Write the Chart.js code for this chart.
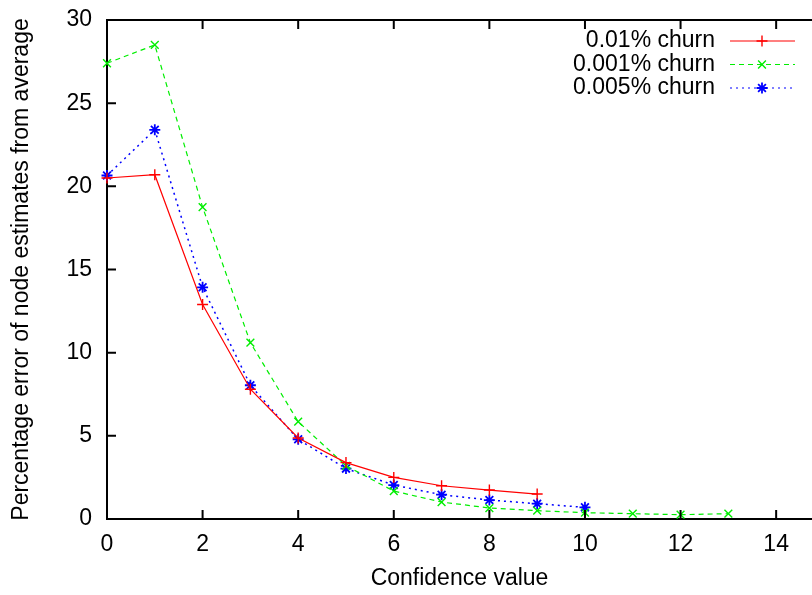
<!DOCTYPE html>
<html>
<head>
<meta charset="utf-8">
<script src="https://cdn.jsdelivr.net/npm/chart.js@4"></script>
<style>
  body { margin: 0; background: #fff; }
  #wrap { width: 812px; height: 595px; }
</style>
</head>
<body>
<div id="wrap"><canvas id="chart" width="812" height="595"></canvas></div>
<script>
// confidence values on the x axis
var confidence = [0, 1, 2, 3, 4, 5, 6, 7, 8, 9, 10, 11, 12, 13];

// percentage error, one array per churn rate
var churn001 = [20.5, 20.7, 12.9, 7.8, 4.87, 3.39, 2.5, 2.0, 1.74, 1.5];
var churn0001 = [27.4, 28.5, 18.75, 10.6, 5.85, 3.2, 1.68, 1.02, 0.66, 0.5, 0.38, 0.32, 0.26, 0.32];
var churn0005 = [20.65, 23.4, 13.93, 8.04, 4.79, 3.03, 2.04, 1.46, 1.14, 0.92, 0.7];

var seriesNames = ['0.01% churn', '0.001% churn', '0.005% churn'];
var xTicks = [0, 2, 4, 6, 8, 10, 12, 14];
var yTicks = [0, 5, 10, 15, 20, 25, 30];

var FONT = 'Liberation Sans, Arial, Helvetica, sans-serif';
var FSIZE = 23;

function toPoints(values){
    var pts = [];
    for (var i = 0; i < values.length; i++){
        pts.push({x: confidence[i], y: values[i]});
    }
    return pts;
}

// gnuplot style inward ticks + top border
var frame = {
    id: 'frame',
    afterDraw: function(chart){
        var ctx = chart.ctx;
        var a = chart.chartArea;
        var xs = chart.scales.x, ys = chart.scales.y;
        ctx.save();
        ctx.strokeStyle = '#000';
        ctx.lineWidth = 2;
        ctx.beginPath();
        ctx.moveTo(a.left, a.top);
        ctx.lineTo(chart.width, a.top);
        for (var i = 0; i < xTicks.length; i++){
            var px = xs.getPixelForValue(xTicks[i]);
            ctx.moveTo(px, a.bottom);
            ctx.lineTo(px, a.bottom - 9);
            ctx.moveTo(px, a.top);
            ctx.lineTo(px, a.top + 9);
        }
        for (var j = 0; j < yTicks.length; j++){
            var py = ys.getPixelForValue(yTicks[j]);
            ctx.moveTo(a.left, py);
            ctx.lineTo(a.left + 9, py);
        }
        ctx.stroke();
        ctx.restore();
    }
};

// legend with text left of the sample
var keyBox = {
    id: 'keyBox',
    afterDraw: function(chart){
        var ctx = chart.ctx;
        var a = chart.chartArea;
        ctx.save();
        ctx.font = FSIZE + 'px ' + FONT;
        ctx.textAlign = 'right';
        ctx.textBaseline = 'middle';
        chart.data.datasets.forEach(function(ds, k){
            var y = a.top + 21 + k * 23.5;
            ctx.fillStyle = '#000';
            ctx.fillText(ds.label, 715, y);
            ctx.strokeStyle = ds.borderColor;
            ctx.lineWidth = 1.2;
            ctx.setLineDash(ds.borderDash || []);
            ctx.beginPath();
            ctx.moveTo(730, y);
            ctx.lineTo(795, y);
            ctx.stroke();
            ctx.setLineDash([]);
            if (Chart.helpers && Chart.helpers.drawPoint){
                ctx.strokeStyle = ds.pointBorderColor;
                ctx.fillStyle = ds.pointBorderColor;
                ctx.lineWidth = ds.pointBorderWidth;
                Chart.helpers.drawPoint(ctx, {pointStyle: ds.pointStyle, rotation: 0, borderWidth: ds.pointBorderWidth, radius: ds.pointRadius}, 762, y);
            }
        });
        ctx.restore();
    }
};

var ctx = document.getElementById('chart').getContext('2d');
var chart = new Chart(ctx, {
    type: 'line',
    data: {
        datasets: [{
            label: seriesNames[0],
            data: toPoints(churn001),
            borderColor: '#ff0000',
            pointBorderColor: '#ff0000',
            pointBackgroundColor: '#ff0000',
            borderWidth: 1.2,
            pointStyle: 'cross',
            pointRadius: 5.5,
            pointBorderWidth: 1.4,
            clip: false
        }, {
            label: seriesNames[1],
            data: toPoints(churn0001),
            borderColor: '#00ee00',
            pointBorderColor: '#00ee00',
            pointBackgroundColor: '#00ee00',
            borderWidth: 1.2,
            borderDash: [5, 4],
            pointStyle: 'crossRot',
            pointRadius: 5.5,
            pointBorderWidth: 1.4,
            clip: false
        }, {
            label: seriesNames[2],
            data: toPoints(churn0005),
            borderColor: '#0000ff',
            pointBorderColor: '#0000ff',
            pointBackgroundColor: '#0000ff',
            borderWidth: 1.5,
            borderDash: [2, 4],
            pointStyle: 'star',
            pointRadius: 5.5,
            pointBorderWidth: 1.8,
            clip: false
        }]
    },
    options: {
        responsive: false,
        animation: false,
        layout: { autoPadding: false, padding: { left: 0, top: 20, right: 0, bottom: 0 } },
        plugins: {
            legend: { display: false },
            tooltip: { enabled: false }
        },
        elements: { line: { tension: 0 } },
        scales: {
            x: {
                type: 'linear',
                min: 0,
                max: 14.75,
                grid: { display: false },
                border: { display: true, color: '#000', width: 2 },
                ticks: {
                    stepSize: 2,
                    includeBounds: false,
                    autoSkip: false,
                    maxRotation: 0,
                    padding: 4,
                    color: '#000',
                    font: { family: FONT, size: FSIZE }
                },
                title: {
                    display: true,
                    text: 'Confidence value',
                    color: '#000',
                    padding: { top: 12, bottom: 3 },
                    font: { family: FONT, size: FSIZE }
                },
                afterFit: function(s){
                    s.height = 76;
                    s.paddingRight = 0;
                    s.paddingLeft = 0;
                }
            },
            y: {
                min: 0,
                max: 30,
                grid: { display: false },
                border: { display: true, color: '#000', width: 2 },
                ticks: {
                    stepSize: 5,
                    padding: 7,
                    color: '#000',
                    font: { family: FONT, size: FSIZE }
                },
                title: {
                    display: true,
                    text: 'Percentage error of node estimates from average',
                    color: '#000',
                    padding: { top: 8, bottom: 0 },
                    font: { family: FONT, size: FSIZE }
                },
                afterFit: function(s){
                    s.width = 107;
                    s.paddingTop = 0;
                    s.paddingBottom = 0;
                }
            }
        }
    },
    plugins: [frame, keyBox]
});
</script>
</body>
</html>
